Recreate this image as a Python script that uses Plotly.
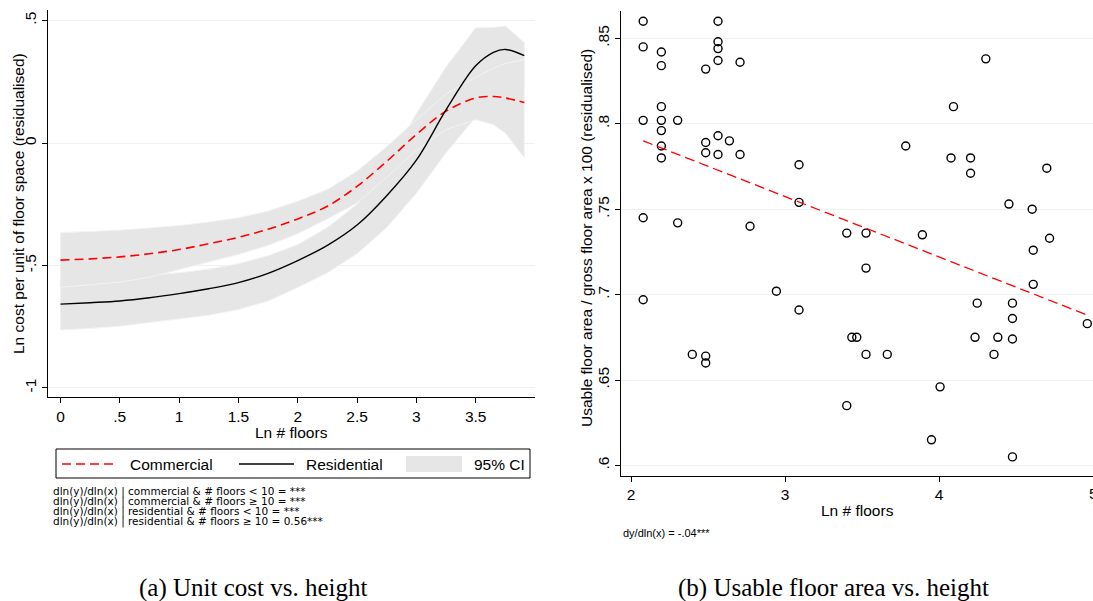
import plotly.graph_objects as go

# ---------------- Data: left panel (unit cost vs height) ----------------
lx = [0, 0.25, 0.5, 0.75, 1.0, 1.25, 1.5, 1.75, 2.0, 2.25, 2.5, 2.75, 3.0, 3.25, 3.5, 3.65, 3.75, 3.91]
com_fit = [-0.478, -0.473, -0.465, -0.452, -0.435, -0.411, -0.385, -0.352, -0.31, -0.258, -0.177, -0.075,
           0.035, 0.13, 0.184, 0.19, 0.184, 0.165]
com_lo = [-0.589, -0.58, -0.568, -0.548, -0.515, -0.485, -0.455, -0.418, -0.37, -0.31, -0.245, -0.14,
          -0.03, 0.055, 0.095, 0.075, 0.04, -0.06]
com_hi = [-0.366, -0.362, -0.356, -0.347, -0.337, -0.323, -0.305, -0.278, -0.238, -0.19, -0.115, -0.015,
          0.095, 0.2, 0.268, 0.305, 0.325, 0.34]
res_fit = [-0.658, -0.652, -0.645, -0.632, -0.615, -0.595, -0.57, -0.532, -0.48, -0.418, -0.335, -0.215,
           -0.07, 0.135, 0.315, 0.37, 0.382, 0.357]
res_lo = [-0.763, -0.757, -0.748, -0.733, -0.717, -0.703, -0.68, -0.645, -0.59, -0.53, -0.452, -0.345,
          -0.205, -0.04, 0.105, 0.15, 0.18, 0.215]
res_hi = [-0.56, -0.556, -0.548, -0.54, -0.53, -0.515, -0.493, -0.46, -0.415, -0.345, -0.25, -0.095,
          0.12, 0.31, 0.47, 0.472, 0.478, 0.41]
left_xticks = [0, 0.5, 1, 1.5, 2, 2.5, 3, 3.5]
left_xticklabels = ['0', '.5', '1', '1.5', '2', '2.5', '3', '3.5']
left_yticks = [-1, -0.5, 0, 0.5]
left_yticklabels = ['-1', '-.5', '0', '.5']
notes = [
    "dln(y)/dln(x) | commercial & # floors < 10 = ***",
    "dln(y)/dln(x) | commercial & # floors \u2265 10 = ***",
    "dln(y)/dln(x) | residential & # floors < 10 = ***",
    "dln(y)/dln(x) | residential & # floors \u2265 10 = 0.56***",
]

# ---------------- Data: right panel (usable floor area vs height) ----------------
sx = [2.079, 2.079, 2.197, 2.197, 2.079, 2.197, 2.197, 2.197, 2.197, 2.197, 2.303, 2.079, 2.303, 2.773,
      2.485, 2.565, 2.565, 2.565, 2.565, 2.708, 2.485, 2.485, 2.565, 2.565, 2.639, 2.708,
      2.079, 2.398, 2.485, 2.485,
      4.304, 4.094, 3.784, 3.091, 4.078, 4.205, 4.205, 4.700, 3.091, 4.454, 4.605, 3.401, 3.526, 3.892,
      4.718, 4.612,
      3.526, 4.612, 2.944, 3.091, 4.248, 4.477, 4.477, 3.434, 3.466, 4.234, 4.382, 4.477, 3.526, 3.664,
      4.357, 4.963, 4.007, 3.401, 3.951, 4.477]
sy = [0.860, 0.845, 0.842, 0.834, 0.802, 0.810, 0.802, 0.796, 0.787, 0.780, 0.802, 0.745, 0.742, 0.740,
      0.832, 0.860, 0.848, 0.844, 0.837, 0.836, 0.789, 0.783, 0.793, 0.782, 0.790, 0.782,
      0.697, 0.665, 0.664, 0.660,
      0.838, 0.810, 0.787, 0.776, 0.780, 0.780, 0.771, 0.774, 0.754, 0.753, 0.750, 0.736, 0.736, 0.735,
      0.733, 0.726,
      0.7155, 0.706, 0.702, 0.691, 0.695, 0.695, 0.686, 0.675, 0.675, 0.675, 0.675, 0.674, 0.665, 0.665,
      0.665, 0.683, 0.646, 0.635, 0.615, 0.605]
fit_x = [2.079, 4.963]
fit_y = [0.790, 0.688]
right_xticks = [2, 3, 4]
right_xticklabels = ['2', '3', '4']
right_edge_tick = 5
right_yticks = [0.6, 0.65, 0.7, 0.75, 0.8, 0.85]
right_yticklabels = ['.6', '.65', '.7', '.75', '.8', '.85']

W, H = 1093, 601
FONT = "Liberation Sans, Arial, sans-serif"
NOTEFONT = "DejaVu Sans, Liberation Sans, sans-serif"
SERIF = "Liberation Serif, Times New Roman, serif"
BAND = "rgb(230,230,230)"
BAND_EDGE = "rgb(243,243,243)"
GRID = "rgb(234,242,243)"


def px(p):
    return p / W


def py(p):
    return 1 - p / H


fig = go.Figure()

# CI bands (residential first, commercial on top)
for lo, hi in [(res_lo, res_hi), (com_lo, com_hi)]:
    fig.add_trace(go.Scatter(
        x=lx + lx[::-1], y=hi + lo[::-1], mode="lines", fill="toself",
        fillcolor=BAND, line=dict(color=BAND_EDGE, width=1),
        hoverinfo="skip", xaxis="x", yaxis="y"))

fig.add_trace(go.Scatter(x=lx, y=com_fit, mode="lines",
                         line=dict(color="red", width=1.6, dash="9px,5px", shape="spline"),
                         xaxis="x", yaxis="y"))
fig.add_trace(go.Scatter(x=lx, y=res_fit, mode="lines", line=dict(color="black", width=1.4, shape="spline"),
                         xaxis="x", yaxis="y"))

# Right panel
fig.add_trace(go.Scatter(x=sx, y=sy, mode="markers",
                         marker=dict(symbol="circle-open", size=8, color="black", line=dict(width=1.4)),
                         xaxis="x2", yaxis="y2"))
fig.add_trace(go.Scatter(x=fit_x, y=fit_y, mode="lines", line=dict(color="red", width=1.3, dash="10px,5px"),
                         xaxis="x2", yaxis="y2"))

axis_common = dict(showline=True, linecolor="black", linewidth=1, ticks="outside", ticklen=5,
                   tickcolor="black", tickwidth=1, zeroline=False, tickfont=dict(size=15.5, color="black"),
                   fixedrange=True)

fig.update_layout(
    width=W, height=H, margin=dict(l=0, r=0, t=0, b=0),
    paper_bgcolor="white", plot_bgcolor="white", showlegend=False,
    font=dict(family=FONT, color="black"),
    xaxis=dict(domain=[px(48), px(535)], range=[-0.105, 4.0], anchor="y",
               tickvals=left_xticks, ticktext=left_xticklabels, showgrid=False, **axis_common),
    yaxis=dict(domain=[py(397), py(10)], range=[-1.037, 0.543], anchor="x",
               tickvals=left_yticks, ticktext=left_yticklabels, tickangle=-90,
               showgrid=True, gridcolor=GRID, gridwidth=1, **axis_common),
    xaxis2=dict(domain=[px(621), 1.0], range=[1.935, 5.0], anchor="y2",
                tickvals=right_xticks, ticktext=right_xticklabels, showgrid=False, **axis_common),
    yaxis2=dict(domain=[py(475.7), py(11)], range=[0.594, 0.866], anchor="x2",
                tickvals=right_yticks, ticktext=right_yticklabels, tickangle=-90,
                showgrid=True, gridcolor=GRID, gridwidth=1, **axis_common),
)

ann = []


def text(x, y, s, size=15.5, xanchor="center", angle=0, family=FONT):
    ann.append(dict(x=px(x), y=py(y), xref="paper", yref="paper", text=s, showarrow=False,
                    xanchor=xanchor, yanchor="middle", textangle=angle, borderpad=0,
                    font=dict(size=size, family=family, color="black")))


# Axis titles
text(19, 204, "Ln cost per unit of floor space (residualised)", angle=-90)
text(291, 432, "Ln # floors")
text(586, 238, "Usable floor area / gross floor area x 100 (residualised)", angle=-90)
text(857, 510, "Ln # floors")

# Edge tick label "5" of the right x axis (cut by the page edge as in the reference)
ann.append(dict(x=right_edge_tick, xref="x2", y=py(493), yref="paper", text=str(right_edge_tick),
                showarrow=False, xanchor="center", yanchor="middle", borderpad=0,
                font=dict(size=15.5, family=FONT, color="black")))

# Legend text
text(129, 464, "Commercial", xanchor="left")
text(305, 464, "Residential", xanchor="left")
text(473, 464, "95% CI", xanchor="left")

# Notes
for i, s in enumerate(notes):
    text(52, 491.5 + i * 10, s, size=10.5, xanchor="left", family=NOTEFONT)
text(622, 533, "dy/dln(x) = -.04***", size=11, xanchor="left")

# Captions
text(253, 588, "(a) Unit cost vs. height", size=25, family=SERIF)
text(833, 588, "(b) Usable floor area vs. height", size=25, family=SERIF)

shapes = [
    dict(type="rect", xref="paper", yref="paper", x0=px(56), x1=px(530), y0=py(478), y1=py(449),
         line=dict(color="black", width=1), fillcolor="rgba(0,0,0,0)"),
    dict(type="line", xref="paper", yref="paper", x0=px(62), x1=px(118), y0=py(464), y1=py(464),
         line=dict(color="red", width=1.6, dash="9px,5px")),
    dict(type="line", xref="paper", yref="paper", x0=px(239), x1=px(294), y0=py(464), y1=py(464),
         line=dict(color="black", width=1.4)),
    dict(type="rect", xref="paper", yref="paper", x0=px(406), x1=px(462), y0=py(472), y1=py(456),
         line=dict(width=0), fillcolor=BAND),
]

fig.update_layout(annotations=ann, shapes=shapes)

fig.write_html("out.html")
